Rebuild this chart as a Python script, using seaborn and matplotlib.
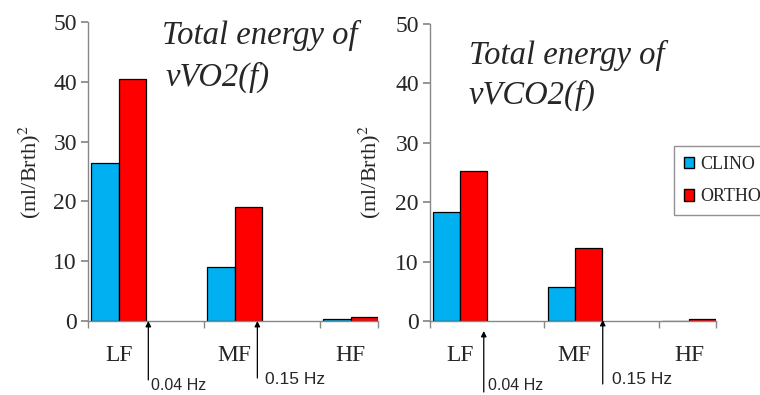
import matplotlib
matplotlib.use("Agg")
import matplotlib.pyplot as plt
from matplotlib.patches import Patch
import seaborn as sns
import pandas as pd

bands = ["LF", "MF", "HF"]
positions = ["CLINO", "ORTHO"]
vo2_clino = [26.5, 9.0, 0.3]
vo2_ortho = [40.5, 19.0, 0.6]
vco2_clino = [18.3, 5.8, 0.05]
vco2_ortho = [25.3, 12.3, 0.4]
yticks = [0, 10, 20, 30, 40, 50]
colors = {"CLINO": "#00B0F0", "ORTHO": "#FF0000"}

sns.set_theme(style="white")
plt.rcParams["font.family"] = ["Liberation Serif", "DejaVu Serif"]
plt.rcParams["mathtext.fontset"] = "stix"

fig = plt.figure(figsize=(7.6, 3.95), dpi=100)
W, H = 760, 395

def fx(px):
    return px / W

def fy(py):
    return 1 - py / H

hue_order = positions + ["_pad1", "_pad2"]
palette = {**colors, "_pad1": "white", "_pad2": "white"}

def make_df(clino, ortho):
    rows = []
    for b, c, o in zip(bands, clino, ortho):
        rows.append({"band": b, "pos": "CLINO", "value": c})
        rows.append({"band": b, "pos": "ORTHO", "value": o})
    return pd.DataFrame(rows)

def draw(ax, clino, ortho, arrows, hz_labels):
    df = make_df(clino, ortho)
    sns.barplot(data=df, x="band", y="value", hue="pos", order=bands,
                hue_order=hue_order, palette=palette, width=0.94, dodge=True,
                edgecolor="black", linewidth=0.9, saturation=1, legend=False,
                errorbar=None, ax=ax)
    ax.set_facecolor("none")
    ax.set_xlim(-0.5, 2.0)
    ax.set_ylim(0, 50)
    ax.set_yticks(yticks)
    ax.set_yticklabels([str(t) for t in yticks], fontsize=17)
    ax.set_xticks([i - 0.235 for i in range(len(bands))])
    ax.set_xticklabels(bands, fontsize=17)
    ax.set_xticks([-0.5, 0.5, 1.5, 2.0], minor=True)
    ax.tick_params(axis="x", which="major", length=0, pad=17)
    ax.tick_params(axis="x", which="minor", length=5, color="#888888",
                   direction="out", bottom=True)
    ax.tick_params(axis="y", length=5, color="#888888", direction="out",
                   left=True, pad=3)
    for s in ["top", "right"]:
        ax.spines[s].set_visible(False)
    for s in ["left", "bottom"]:
        ax.spines[s].set_color("#888888")
        ax.spines[s].set_linewidth(1.0)
    ax.set_xlabel("")
    ax.set_ylabel("")
    for (x, ytip, ybot) in arrows:
        ax.annotate("", xy=(x, fy(ytip)), xycoords=("data", "figure fraction"),
                    xytext=(x, fy(ybot)), textcoords=("data", "figure fraction"),
                    arrowprops=dict(arrowstyle="-|>", color="black", lw=0.9,
                                    mutation_scale=8, shrinkA=0, shrinkB=0),
                    annotation_clip=False)
    for (txt, px, py, fs) in hz_labels:
        fig.text(fx(px), fy(py), txt, fontsize=fs, ha="left", va="center",
                 family=["Liberation Sans", "DejaVu Sans"])

ax1 = fig.add_axes([fx(88), fy(321), fx(378) - fx(88), fy(22) - fy(321)])
draw(ax1, vo2_clino, vo2_ortho,
     [(0.02, 321, 380), (0.96, 321, 378)],
     [("0.04 Hz", 151, 385, 11.5), ("0.15 Hz", 265, 380, 12.5)])

ax2 = fig.add_axes([fx(430), fy(321), fx(716) - fx(430), fy(24) - fy(321)])
draw(ax2, vco2_clino, vco2_ortho,
     [(-0.03, 331, 392), (1.01, 320, 384)],
     [("0.04 Hz", 488, 385, 11.5), ("0.15 Hz", 612, 380, 12.5)])

# Titles
fig.text(fx(162), fy(35), "Total energy of", fontsize=23.5, style="italic",
         ha="left", va="center")
fig.text(fx(166), fy(77), "vVO2(f)", fontsize=23.5, style="italic",
         ha="left", va="center")
fig.text(fx(469), fy(55), "Total energy of", fontsize=23.5, style="italic",
         ha="left", va="center")
fig.text(fx(469), fy(95), "vVCO2(f)", fontsize=23.5, style="italic",
         ha="left", va="center")

# Y labels
fig.text(fx(30), fy(172), "(ml/Brth)$^{2}$", fontsize=16, rotation=90,
         ha="center", va="center")
fig.text(fx(370), fy(172), "(ml/Brth)$^{2}$", fontsize=16, rotation=90,
         ha="center", va="center")

# Legend
handles = [Patch(facecolor=colors[p], edgecolor="black", label=p) for p in positions]
leg = fig.legend(handles=handles, loc="upper left",
                 bbox_to_anchor=(fx(674), fy(146)), frameon=True,
                 fancybox=False, edgecolor="#777777", fontsize=13,
                 handlelength=0.55, handleheight=0.6, handletextpad=0.35,
                 labelspacing=0.85, borderpad=0.55, borderaxespad=0)
leg.get_frame().set_linewidth(1.0)

fig.savefig("out.png", dpi=100)
